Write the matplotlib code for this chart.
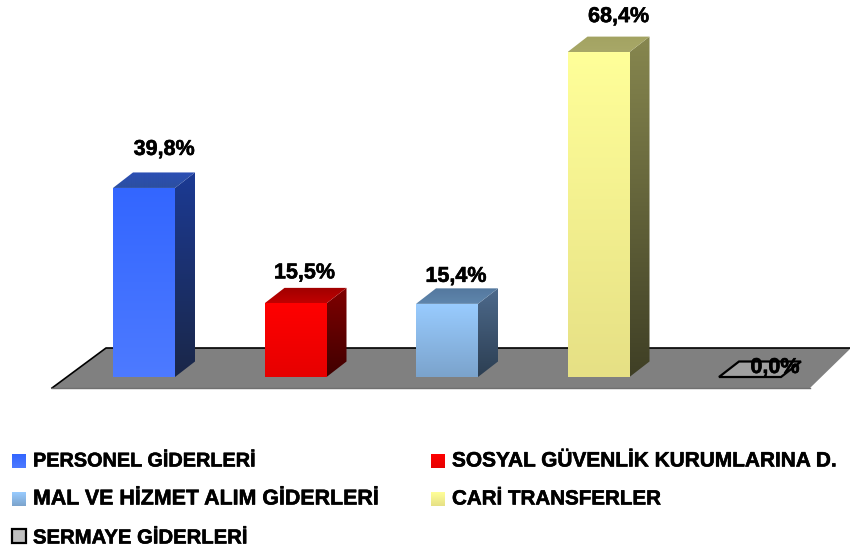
"""3D style bar chart of budget shares, drawn by hand with gradients."""
import numpy as np
import matplotlib
matplotlib.use('Agg')
import matplotlib.pyplot as plt
import matplotlib.patheffects as pe
from matplotlib.patches import Polygon, Rectangle
from matplotlib.colors import LinearSegmentedColormap

plt.rcParams['font.family'] = ['Liberation Sans', 'DejaVu Sans']

categories = ['PERSONEL GİDERLERİ', 'SOSYAL GÜVENLİK KURUMLARINA D.',
              'MAL VE HİZMET ALIM GİDERLERİ', 'CARİ TRANSFERLER',
              'SERMAYE GİDERLERİ']
values = [39.8, 15.5, 15.4, 68.4, 0.0]
value_labels = ['39,8%', '15,5%', '15,4%', '68,4%', '0,0%']

# gradient colours, top to bottom
front_cols = [('#3366ff', '#4d7aff'), ('#ff0000', '#e60000'), ('#99ccff', '#7ba3cc'),
              ('#ffff99', '#e6e085'), ('#a0a0a0', '#a0a0a0')]
side_cols = [('#1c3a94', '#1a2748'), ('#800000', '#400000'), ('#4d6a8c', '#2c3e52'),
             ('#87874f', '#3f3f25'), ('#808080', '#808080')]
top_cols = [('#2c4fb5', '#2c4fa0'), ('#a00000', '#c00000'), ('#54789e', '#5f86ad'),
            ('#a3a362', '#a8a868'), ('#999999', '#999999')]

W, H = 850, 552
PX_X = 151.5    # pixels per category
PX_Y = 4.75     # pixels per percent
X0, Y0 = 144, 377   # pixel of category 0 at value 0

fig = plt.figure(figsize=(W / 100, H / 100), dpi=100)
ax = fig.add_axes([0, 0, 1, 1])
ax.set_xlim(-X0 / PX_X, (W - X0) / PX_X)
ax.set_ylim((Y0 - H) / PX_Y, Y0 / PX_Y)
ax.axis('off')

bar_w = 62 / PX_X
dx = 20 / PX_X
dy = 15.5 / PX_Y
heavy = [pe.withStroke(linewidth=0.4, foreground='black')]


def gradient_poly(pts, cols, zorder):
    """Fill a polygon with a vertical gradient."""
    pts = np.array(pts)
    cmap = LinearSegmentedColormap.from_list('g', cols)
    poly = Polygon(pts, closed=True, facecolor='none', edgecolor='none', zorder=zorder)
    ax.add_patch(poly)
    im = ax.imshow(np.linspace(0, 1, 128).reshape(-1, 1), cmap=cmap, aspect='auto',
                   extent=[pts[:, 0].min(), pts[:, 0].max(), pts[:, 1].min(), pts[:, 1].max()],
                   origin='upper', zorder=zorder, interpolation='bilinear')
    im.set_clip_path(poly)


# floor
floor_x = [(52 - X0) / PX_X, (810 - X0) / PX_X, (851 - X0) / PX_X, (106 - X0) / PX_X]
floor_y = [(Y0 - 388) / PX_Y, (Y0 - 388) / PX_Y, (Y0 - 348) / PX_Y, (Y0 - 348) / PX_Y]
ax.add_patch(Polygon(np.column_stack([floor_x, floor_y]), closed=True,
                     facecolor='#808080', edgecolor='none', zorder=1))
ax.plot(floor_x[2:] + floor_x[:1], floor_y[2:] + floor_y[:1], color='black', lw=1.2, zorder=1.5)
ax.plot(floor_x[:2], floor_y[:2], color='#707070', lw=1, zorder=1.5)

# bars
for i, v in enumerate(values):
    l, r = i - bar_w / 2, i + bar_w / 2
    if v > 0:
        gradient_poly([(l, 0), (r, 0), (r, v), (l, v)], front_cols[i], 3)
        gradient_poly([(r, 0), (r + dx, dy), (r + dx, v + dy), (r, v)], side_cols[i], 3)
        gradient_poly([(l, v), (r, v), (r + dx, v + dy), (l + dx, v + dy)], top_cols[i], 3)
    else:
        ax.add_patch(Polygon([(l, 0), (r, 0), (r + dx, dy), (l + dx, dy)], closed=True,
                             facecolor='#a0a0a0', edgecolor='black', lw=1.6, zorder=3))

# value labels, pixel offsets from the bar top
label_off = [(20, 28), (9, 20), (9, 17), (20, 25), (25, -1)]
for i, (v, lab) in enumerate(zip(values, value_labels)):
    ox, oy = label_off[i]
    ax.text(i + ox / PX_X, v + oy / PX_Y, lab, ha='center', va='bottom',
            fontsize=15.5, fontweight='bold', color='black', zorder=5, path_effects=heavy)

# legend in pixel positions
marker_pos = [(12, 461), (431, 461), (12, 499), (431, 499), (12, 536)]
text_y = [459, 459, 497, 497, 536]
text_size = [14.3, 15.0, 15.4, 14.8, 14.6]
for i, (px, py) in enumerate(marker_pos):
    x = (px - X0) / PX_X
    s = 14
    y_top = (Y0 - (py - 7)) / PX_Y
    y_bot = (Y0 - (py + 7)) / PX_Y
    w = s / PX_X
    if i == 4:
        ax.add_patch(Rectangle((x, y_bot), w, y_top - y_bot, facecolor='#c0c0c0',
                               edgecolor='black', lw=1.6, zorder=3))
    else:
        gradient_poly([(x, y_bot), (x + w, y_bot), (x + w, y_top), (x, y_top)], front_cols[i], 3)
    ax.text(x + 21 / PX_X, (Y0 - text_y[i]) / PX_Y, categories[i], ha='left', va='center_baseline',
            fontsize=text_size[i], fontweight='bold', color='black', zorder=5, path_effects=heavy)

ax.set_xlim(-X0 / PX_X, (W - X0) / PX_X)
ax.set_ylim((Y0 - H) / PX_Y, Y0 / PX_Y)

fig.savefig('out.png', dpi=100)
plt.close(fig)
